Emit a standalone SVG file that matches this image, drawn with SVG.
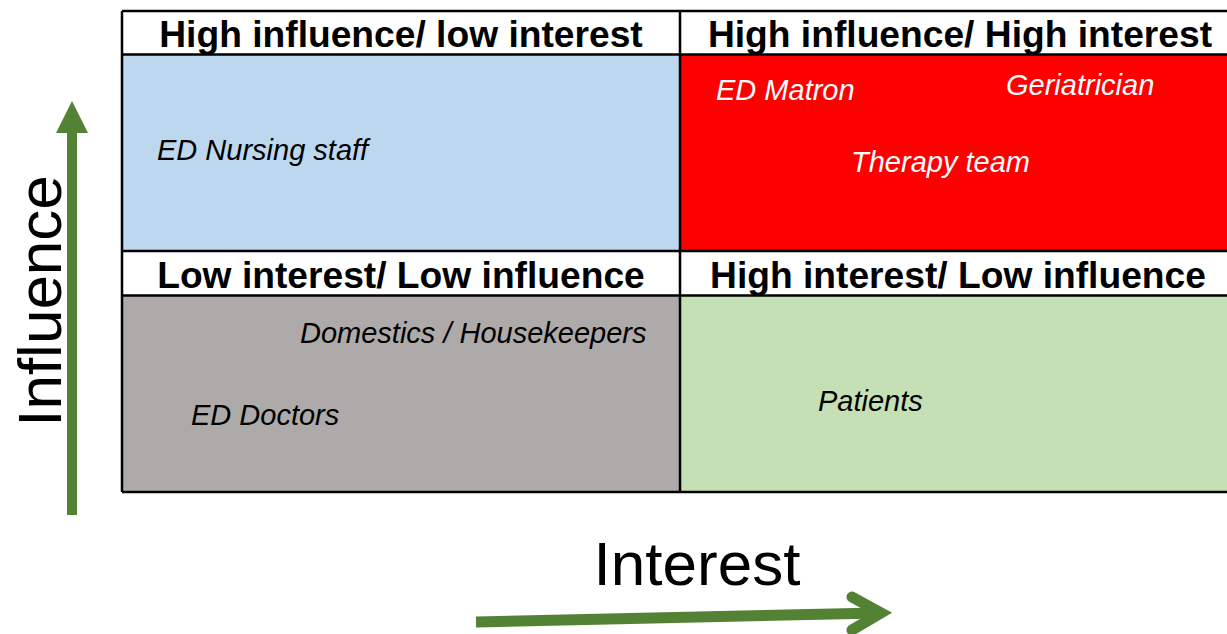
<svg xmlns="http://www.w3.org/2000/svg" width="1227" height="634" viewBox="0 0 1227 634">
<style>
.hdr{font-family:"Liberation Sans",Arial,sans-serif;font-weight:bold;font-size:37.2px;fill:#000;text-anchor:middle}
.item{font-family:"Liberation Sans",Arial,sans-serif;font-style:italic;font-size:29px}
.axis{font-family:"Liberation Sans",Arial,sans-serif;font-size:62px;fill:#000;text-anchor:middle}
.grid{stroke:#000;stroke-width:2.5;fill:none}
</style>
<rect width="1227" height="634" fill="#fff"/>
<g id="cells">
<rect x="122" y="54.5" width="558" height="196.5" fill="#BDD7EE"/>
<rect x="680" y="54.5" width="547" height="196.5" fill="#FF0000"/>
<rect x="122" y="295.5" width="558" height="196.5" fill="#AEAAAA"/>
<rect x="680" y="295.5" width="547" height="196.5" fill="#C5E0B4"/>
</g>
<g id="grid" class="grid">
<line x1="122" y1="11" x2="1227" y2="11"/>
<line x1="122" y1="54.5" x2="1227" y2="54.5"/>
<line x1="122" y1="251" x2="1227" y2="251"/>
<line x1="122" y1="295.5" x2="1227" y2="295.5"/>
<line x1="122" y1="492" x2="1227" y2="492"/>
<line x1="122" y1="11" x2="122" y2="492"/>
<line x1="680" y1="11" x2="680" y2="492"/>
</g>
<g id="q-high-influence-low-interest">
<text class="hdr" x="401" y="46.5">High influence/ low interest</text>
<text class="item" x="157" y="159.5" fill="#000">ED Nursing staff</text>
</g>
<g id="q-high-influence-high-interest">
<text class="hdr" x="960" y="46.5">High influence/ High interest</text>
<text class="item" x="716" y="100" fill="#fff">ED Matron</text>
<text class="item" x="1006" y="95" fill="#fff">Geriatrician</text>
<text class="item" x="851" y="171.5" fill="#fff">Therapy team</text>
</g>
<g id="q-low-interest-low-influence">
<text class="hdr" x="401" y="287.5">Low interest/ Low influence</text>
<text class="item" x="300" y="342.5" fill="#000">Domestics / Housekeepers</text>
<text class="item" x="191" y="425" fill="#000">ED Doctors</text>
</g>
<g id="q-high-interest-low-influence">
<text class="hdr" x="958" y="287.5">High interest/ Low influence</text>
<text class="item" x="818" y="410.5" fill="#000">Patients</text>
</g>
<g id="connectors">
<rect x="67" y="131" width="10" height="384" fill="#548235"/>
<polygon points="56,133 72,101 88,133" fill="#548235"/>
<line x1="476" y1="622" x2="878" y2="613" stroke="#548235" stroke-width="11"/>
<polyline points="852,597 881,613 852,630" fill="none" stroke="#548235" stroke-width="11" stroke-linecap="round" stroke-linejoin="miter"/>
</g>
<g id="axis-labels">
<text class="axis" transform="translate(61,301) rotate(-90)">Influence</text>
<text class="axis" x="697" y="585">Interest</text>
</g>
</svg>
